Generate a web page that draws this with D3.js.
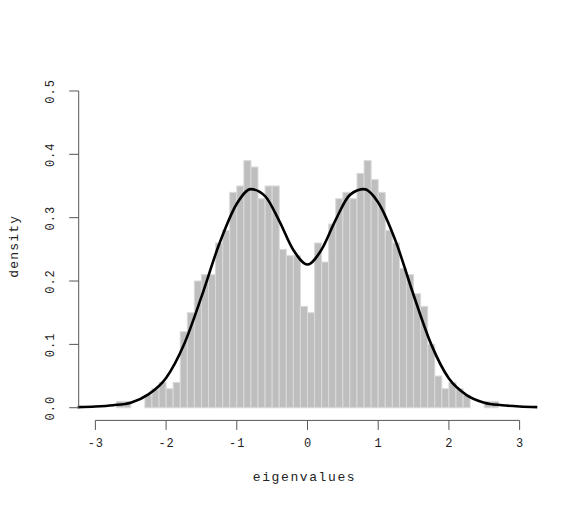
<!DOCTYPE html>
<html>
<head>
<meta charset="utf-8">
<script src="https://cdn.jsdelivr.net/npm/d3@7"></script>
<style>
  body { margin: 0; background: #fff; }
  text { font-family: "Liberation Mono", "DejaVu Sans Mono", monospace; fill: #222; }
</style>
</head>
<body>
<div id="chart"></div>
<script>
// histogram bins (left edge, width 0.1) and their densities
const binStarts = [-2.7, -2.6, -2.5, -2.4, -2.3, -2.2, -2.1, -2.0, -1.9, -1.8,
  -1.7, -1.6, -1.5, -1.4, -1.3, -1.2, -1.1, -1.0, -0.9, -0.8,
  -0.7, -0.6, -0.5, -0.4, -0.3, -0.2, -0.1, 0.0, 0.1, 0.2,
  0.3, 0.4, 0.5, 0.6, 0.7, 0.8, 0.9, 1.0, 1.1, 1.2,
  1.3, 1.4, 1.5, 1.6, 1.7, 1.8, 1.9, 2.0, 2.1, 2.2,
  2.3, 2.4, 2.5, 2.6];
const binDensity = [0.01, 0.01, 0, 0, 0.02, 0.03, 0.04, 0.03, 0.04, 0.12,
  0.15, 0.20, 0.21, 0.21, 0.26, 0.28, 0.34, 0.35, 0.39, 0.38,
  0.33, 0.35, 0.35, 0.25, 0.24, 0.24, 0.16, 0.15, 0.26, 0.23,
  0.29, 0.33, 0.34, 0.33, 0.37, 0.39, 0.36, 0.34, 0.28, 0.26,
  0.22, 0.21, 0.18, 0.16, 0.10, 0.05, 0.03, 0.04, 0.03, 0.02,
  0, 0, 0.01, 0.01];
const binWidth = 0.1;

// density curve
const curveX = [-3.25, -3.0, -2.75, -2.5, -2.25, -2.0, -1.75, -1.5, -1.25, -1.0,
  -0.8, -0.6, -0.4, -0.2, 0, 0.2, 0.4, 0.6, 0.8, 1.0,
  1.25, 1.5, 1.75, 2.0, 2.25, 2.5, 2.75, 3.0, 3.25];
const curveY = [0.001, 0.002, 0.004, 0.008, 0.021, 0.047, 0.099, 0.175, 0.258, 0.322,
  0.345, 0.334, 0.295, 0.249, 0.226, 0.250, 0.297, 0.336, 0.345, 0.324,
  0.262, 0.178, 0.100, 0.046, 0.020, 0.008, 0.004, 0.002, 0.001];

const xTicks = [-3, -2, -1, 0, 1, 2, 3];
const yTicks = [0.0, 0.1, 0.2, 0.3, 0.4, 0.5];
const yTickLabels = ["0.0", "0.1", "0.2", "0.3", "0.4", "0.5"];

const width = 577;
const height = 519;
const plot = { left: 78.7, right: 536.3, top: 78.3, bottom: 420.4 };

const svg = d3.select("#chart")
  .append("svg")
  .attr("width", width)
  .attr("height", height);

const x = d3.scaleLinear()
  .domain([-3.236, 3.236])
  .range([plot.left, plot.right]);

const y = d3.scaleLinear()
  .domain([-0.02, 0.52])
  .range([plot.bottom, plot.top]);

const bins = binStarts.map((s, i) => ({ x0: s, x1: s + binWidth, d: binDensity[i] }));

svg.append("g")
  .selectAll("rect")
  .data(bins.filter(b => b.d > 0))
  .enter()
  .append("rect")
  .attr("x", d => x(d.x0))
  .attr("y", d => y(d.d))
  .attr("width", d => x(d.x1) - x(d.x0))
  .attr("height", d => y(0) - y(d.d))
  .attr("fill", "#bebebe")
  .attr("stroke", "#dadada")
  .attr("stroke-width", 1);

const line = d3.line()
  .x(d => x(d[0]))
  .y(d => y(d[1]))
  .curve(d3.curveMonotoneX);

svg.append("path")
  .attr("d", line(curveX.map((v, i) => [v, curveY[i]])))
  .attr("fill", "none")
  .attr("stroke", "#000")
  .attr("stroke-width", 2.6);

// x axis, R style: line only between first and last tick
const axisColor = "#555";
const xAxis = svg.append("g");
xAxis.append("line")
  .attr("x1", x(xTicks[0]))
  .attr("x2", x(xTicks[xTicks.length - 1]))
  .attr("y1", plot.bottom)
  .attr("y2", plot.bottom)
  .attr("stroke", axisColor);
xAxis.selectAll(".tick")
  .data(xTicks)
  .enter()
  .append("line")
  .attr("x1", d => x(d))
  .attr("x2", d => x(d))
  .attr("y1", plot.bottom)
  .attr("y2", plot.bottom + 9.5)
  .attr("stroke", axisColor);
xAxis.selectAll("text")
  .data(xTicks)
  .enter()
  .append("text")
  .attr("x", d => x(d) + 0.5)
  .attr("y", 446.5)
  .attr("text-anchor", "middle")
  .attr("font-size", 12)
  .attr("letter-spacing", 1)
  .text(d => d);

// y axis
const yAxis = svg.append("g");
yAxis.append("line")
  .attr("x1", plot.left)
  .attr("x2", plot.left)
  .attr("y1", y(yTicks[0]))
  .attr("y2", y(yTicks[yTicks.length - 1]))
  .attr("stroke", axisColor);
yAxis.selectAll(".tick")
  .data(yTicks)
  .enter()
  .append("line")
  .attr("x1", plot.left - 9.5)
  .attr("x2", plot.left)
  .attr("y1", d => y(d))
  .attr("y2", d => y(d))
  .attr("stroke", axisColor);
yAxis.selectAll("text")
  .data(yTicks)
  .enter()
  .append("text")
  .attr("transform", d => "translate(53.5," + (y(d) + 0.5) + ") rotate(-90)")
  .attr("text-anchor", "middle")
  .attr("font-size", 12)
  .attr("letter-spacing", 1)
  .text((d, i) => yTickLabels[i]);

// axis titles
svg.append("text")
  .attr("x", (plot.left + plot.right) / 2 - 3)
  .attr("y", 481)
  .attr("text-anchor", "middle")
  .attr("font-size", 13)
  .attr("letter-spacing", 1.6)
  .text("eigenvalues");

svg.append("text")
  .attr("transform", "translate(18," + ((plot.top + plot.bottom) / 2 - 3) + ") rotate(-90)")
  .attr("text-anchor", "middle")
  .attr("font-size", 13)
  .attr("letter-spacing", 1.2)
  .text("density");
</script>
</body>
</html>
